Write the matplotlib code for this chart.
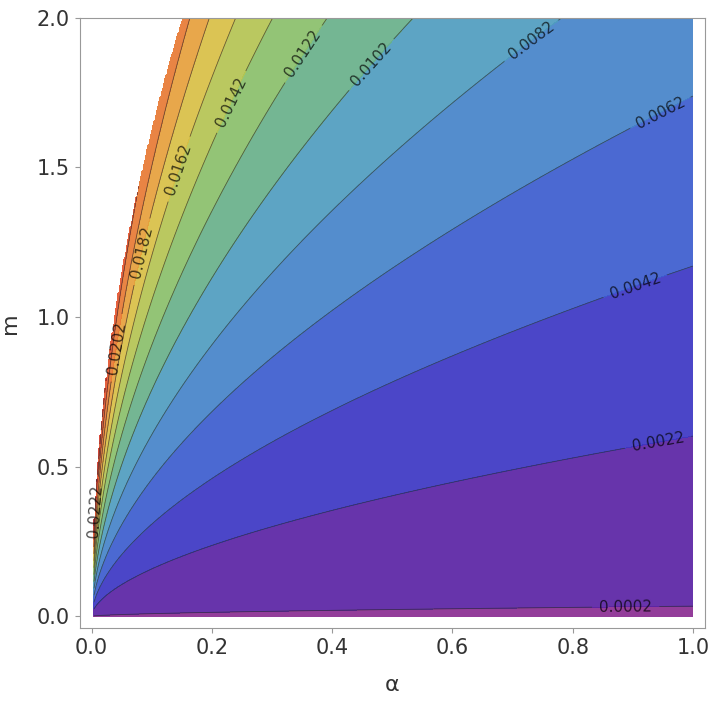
import numpy as np
import matplotlib
matplotlib.use("Agg")
import matplotlib.pyplot as plt

levels = [round(0.0002 + 0.002 * k, 4) for k in range(15)]
n_labelled = 12
band_colors = ["#8a2c92", "#5a22a4", "#3c36c4", "#3c5ccf", "#4583c9",
               "#4f9cbf", "#68b08a", "#8abf6a", "#b4c452", "#d8bf45",
               "#e6a03c", "#e87a34", "#e4552e", "#d83a2a", "#c82828", "#b82020"]

x_ticks = [0.0, 0.2, 0.4, 0.6, 0.8, 1.0]
y_ticks = [0.0, 0.5, 1.0, 1.5, 2.0]

alpha = np.linspace(0.004, 1.0, 500)
m = np.linspace(0.0, 2.0, 500)
A, M = np.meshgrid(alpha, m)
F = 0.00352 * M / A ** 0.58 + 0.00008
F = np.ma.masked_where(M ** 2 > 26.5 * A, F)

fig, ax = plt.subplots(figsize=(7.23, 7.14), dpi=100)
fill_levels = [-1] + levels + [1]
ax.contourf(A, M, F, levels=fill_levels, colors=band_colors[:len(fill_levels) - 1],
            alpha=0.92)
cs = ax.contour(A, M, F, levels=levels, colors="#333333", linewidths=0.6, alpha=0.7)
ax.clabel(cs, levels=cs.levels[:n_labelled], fmt="%.4f", fontsize=11,
          colors="black", inline=True)

ax.set_xlim(-0.02, 1.02)
ax.set_ylim(-0.04, 2.0)
ax.set_xticks(x_ticks)
ax.set_yticks(y_ticks)
ax.set_xticklabels([f"{t:.1f}" for t in x_ticks], fontsize=15, color="#333333")
ax.set_yticklabels([f"{t:.1f}" for t in y_ticks], fontsize=15, color="#333333")
ax.set_xlabel("α", fontsize=16, color="#333333", labelpad=12)
ax.set_ylabel("m", fontsize=16, color="#333333", labelpad=12)
for s in ax.spines.values():
    s.set_color("#999999")
ax.tick_params(color="#999999")
fig.subplots_adjust(left=0.11, right=0.975, bottom=0.12, top=0.975)
fig.savefig("out.png", dpi=100)
